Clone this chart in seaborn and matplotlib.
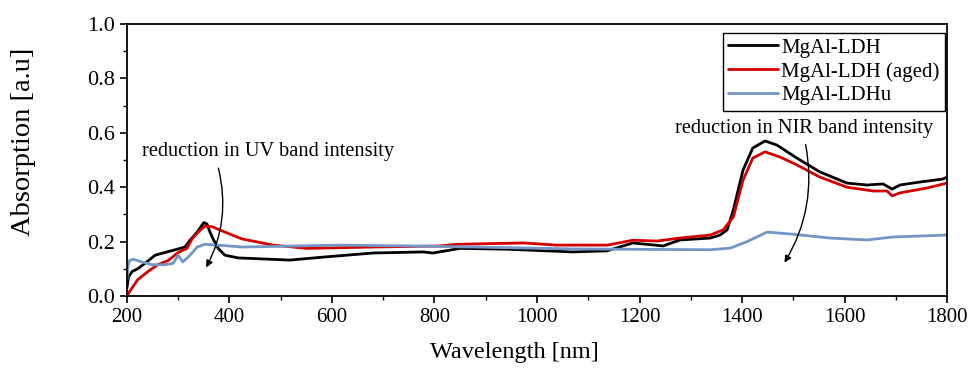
import numpy as np
import pandas as pd
import matplotlib
matplotlib.use("Agg")
import matplotlib.pyplot as plt
import seaborn as sns
from matplotlib.ticker import MultipleLocator, FormatStrFormatter

# --- data ---
ldh_x = [200, 203, 210, 221, 235, 255, 274, 294, 313, 323, 337, 350, 356, 362, 368, 378, 391, 417,
         518, 583, 680, 778, 797, 850, 941, 1070, 1137, 1187, 1246, 1279, 1338, 1357, 1371, 1383,
         1402, 1421, 1445, 1468, 1507, 1552, 1605, 1644, 1675, 1693, 1708, 1747, 1792, 1800]
ldh_y = [0.03, 0.07, 0.09, 0.10, 0.12, 0.15, 0.16, 0.17, 0.18, 0.205, 0.235, 0.27, 0.265, 0.235, 0.21, 0.175, 0.15, 0.14,
         0.132, 0.143, 0.158, 0.162, 0.158, 0.175, 0.172, 0.162, 0.166, 0.195, 0.184, 0.206, 0.213, 0.224, 0.243, 0.316,
         0.463, 0.544, 0.57, 0.555, 0.507, 0.456, 0.415, 0.408, 0.412, 0.393, 0.408, 0.419, 0.43, 0.437]

aged_x = [200, 203, 210, 221, 241, 260, 280, 300, 317, 327, 339, 352, 366, 391, 424, 485, 551, 680,
          811, 844, 973, 1039, 1137, 1187, 1234, 1279, 1338, 1363, 1383, 1402, 1421, 1445, 1474, 1507,
          1552, 1605, 1656, 1683, 1693, 1708, 1761, 1800]
aged_y = [0.0, 0.01, 0.03, 0.06, 0.09, 0.115, 0.13, 0.16, 0.175, 0.21, 0.235, 0.257, 0.255, 0.235, 0.21, 0.187, 0.175, 0.18,
          0.184, 0.19, 0.195, 0.187, 0.187, 0.205, 0.202, 0.213, 0.224, 0.243, 0.29, 0.426, 0.507, 0.53, 0.511, 0.482,
          0.437, 0.40, 0.386, 0.386, 0.368, 0.379, 0.397, 0.415]

u_x = [200, 202, 205, 212, 229, 249, 274, 290, 300, 309, 323, 337, 352, 391, 426, 616, 746, 875, 1070,
       1338, 1377, 1410, 1449, 1494, 1572, 1644, 1695, 1800]
u_y = [0.06, 0.11, 0.13, 0.135, 0.125, 0.115, 0.115, 0.12, 0.15, 0.125, 0.15, 0.18, 0.19, 0.185, 0.18, 0.187, 0.184, 0.18, 0.173,
       0.17, 0.176, 0.2, 0.235, 0.228, 0.213, 0.206, 0.217, 0.224]

labels = ["MgAl-LDH", "MgAl-LDH (aged)", "MgAl-LDHu"]
colors = ["#000000", "#d40000", "#7396c6"]

df = pd.concat([
    pd.DataFrame({"Wavelength": ldh_x, "Absorption": ldh_y, "Sample": labels[0]}),
    pd.DataFrame({"Wavelength": aged_x, "Absorption": aged_y, "Sample": labels[1]}),
    pd.DataFrame({"Wavelength": u_x, "Absorption": u_y, "Sample": labels[2]}),
])

sns.set_theme(style="ticks")
plt.rcParams["font.family"] = ["Liberation Serif", "DejaVu Serif"]
plt.rcParams["text.color"] = "black"
plt.rcParams["axes.labelcolor"] = "black"
plt.rcParams["xtick.color"] = "black"
plt.rcParams["ytick.color"] = "black"

fig = plt.figure(figsize=(9.73, 3.74), dpi=100)
ax = fig.add_axes([0.1305, 0.2086, 0.8428, 0.7272])

sns.lineplot(data=df, x="Wavelength", y="Absorption", hue="Sample", hue_order=labels,
             palette=colors, linewidth=2.0, sort=False, estimator=None, ax=ax)

ax.set_xlim(200, 1800)
ax.set_ylim(0, 1.0)
ax.xaxis.set_major_locator(MultipleLocator(200))
ax.xaxis.set_minor_locator(MultipleLocator(100))
ax.yaxis.set_major_locator(MultipleLocator(0.2))
ax.yaxis.set_minor_locator(MultipleLocator(0.1))
ax.yaxis.set_major_formatter(FormatStrFormatter("%.1f"))
ax.tick_params(which="major", direction="out", length=5, width=1.2, colors="black")
ax.tick_params(axis="x", which="major", labelsize=15)
ax.tick_params(axis="y", which="major", labelsize=16)
ax.tick_params(which="minor", direction="out", length=3, width=1.0)
for s in ax.spines.values():
    s.set_visible(True)
    s.set_linewidth(1.3)
    s.set_color("black")

ax.set_xlabel("Wavelength [nm]", fontsize=17.5)
ax.set_ylabel("Absorption [a.u]", fontsize=20.5)
ax.xaxis.set_label_coords(0.472, -0.169)
ax.yaxis.set_label_coords(-0.111, 0.566)

leg = ax.legend(loc="upper right", bbox_to_anchor=(0.9976, 0.967), fontsize=15, frameon=True,
                fancybox=False, edgecolor="black", framealpha=1, handlelength=2.4,
                borderaxespad=0, labelspacing=0.2, handletextpad=0.15, borderpad=0.25)
leg.get_frame().set_linewidth(1.0)
leg.set_title(None)

ax.text(229, 0.53, "reduction in UV band intensity", fontsize=14.7, ha="left", va="center")
ax.annotate("", xy=(352, 0.096), xytext=(377, 0.48),
            arrowprops=dict(arrowstyle="-|>", color="black", lw=1.0,
                            connectionstyle="arc3,rad=-0.2", mutation_scale=10))
ax.text(1521, 0.615, "reduction in NIR band intensity", fontsize=14.7, ha="center", va="center")
ax.annotate("", xy=(1480, 0.114), xytext=(1523, 0.567),
            arrowprops=dict(arrowstyle="-|>", color="black", lw=1.0,
                            connectionstyle="arc3,rad=-0.2", mutation_scale=10))

fig.savefig("out.png", dpi=100)
